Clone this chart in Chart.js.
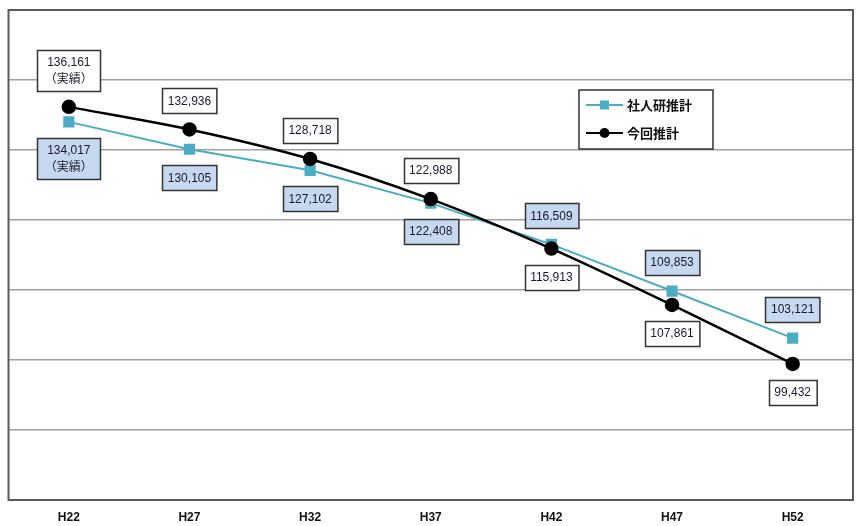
<!DOCTYPE html>
<html>
<head>
<meta charset="utf-8">
<script src="https://cdn.jsdelivr.net/npm/chart.js@4/dist/chart.umd.min.js"></script>
<style>
  html, body { margin: 0; padding: 0; background: #fff; }
  #wrap { width: 862px; height: 526px; }
</style>
</head>
<body>
<div id="wrap"><canvas id="chart" width="862" height="526"></canvas></div>
<script>
const years = ["H22", "H27", "H32", "H37", "H42", "H47", "H52"]
const shajinken = [134017, 130105, 127102, 122408, 116509, 109853, 103121]
const konkai = [136161, 132936, 128718, 122988, 115913, 107861, 99432]
const actualNote = "（実績）"
const seriesNames = ["社人研推計", "今回推計"]

// which labels sit above the point (true) or below it (false)
const konkaiAbove = [true, true, true, true, false, false, false]
const shajinkenAbove = [false, false, false, false, true, true, true]

const CYAN = "#4bacc6"
const FONT = "'Liberation Sans', 'Noto Sans CJK JP', Arial, sans-serif"
const JP_FONT = "'Noto Sans CJK JP', 'Liberation Sans', sans-serif"

const fmt = (v) => v.toLocaleString("en-US")

function drawBox(ctx, cx, anchorY, above, lines, fill) {
  ctx.save()
  ctx.font = "12px " + FONT
  const lineH = 16
  let w = 0
  lines.forEach((l) => { w = Math.max(w, ctx.measureText(l).width) })
  w += lines.length > 1 ? 15 : 11
  const h = lines.length * lineH + 9
  const gap = 16
  const top = above ? anchorY - gap - h : anchorY + gap
  const left = Math.round(cx - w / 2) + 0.5
  ctx.fillStyle = fill
  ctx.fillRect(left, Math.round(top) + 0.5, w, h)
  ctx.strokeStyle = "#333"
  ctx.lineWidth = 1.5
  ctx.strokeRect(left, Math.round(top) + 0.5, w, h)
  ctx.fillStyle = "#1a1a2a"
  ctx.textAlign = "center"
  ctx.textBaseline = "middle"
  lines.forEach((l, i) => {
    ctx.font = (i === 0 ? "12px " + FONT : "12px " + JP_FONT)
    ctx.fillText(l, cx, top + 4.5 + lineH * i + lineH / 2 + 0.5)
  })
  ctx.restore()
}

const decorPlugin = {
  id: "decor",
  beforeDatasetsDraw(chart) {
    const { ctx, chartArea: a } = chart
    ctx.save()
    ctx.strokeStyle = "#5a5a5a"
    ctx.lineWidth = 2
    ctx.strokeRect(a.left, a.top, a.right - a.left, a.bottom - a.top)
    ctx.restore()
  },
  afterDatasetsDraw(chart) {
    const { ctx } = chart
    const m0 = chart.getDatasetMeta(0)
    const m1 = chart.getDatasetMeta(1)
    m0.data.forEach((pt, i) => {
      const lines = i === 0 ? [fmt(shajinken[i]), actualNote] : [fmt(shajinken[i])]
      drawBox(ctx, pt.x, pt.y, shajinkenAbove[i], lines, "#c6d9f1")
    })
    m1.data.forEach((pt, i) => {
      const lines = i === 0 ? [fmt(konkai[i]), actualNote] : [fmt(konkai[i])]
      drawBox(ctx, pt.x, pt.y, konkaiAbove[i], lines, "#ffffff")
    })

    // legend box
    ctx.save()
    const lx = 579, ly = 90, lw = 134, lh = 59
    ctx.fillStyle = "#fff"
    ctx.fillRect(lx, ly, lw, lh)
    ctx.strokeStyle = "#333"
    ctx.lineWidth = 1.5
    ctx.strokeRect(lx, ly, lw, lh)
    const rows = [
      { y: 105, color: CYAN, rect: true, name: seriesNames[0] },
      { y: 133, color: "#000", rect: false, name: seriesNames[1] },
    ]
    rows.forEach((r) => {
      ctx.strokeStyle = r.color
      ctx.lineWidth = 2
      ctx.beginPath()
      ctx.moveTo(586, r.y)
      ctx.lineTo(623, r.y)
      ctx.stroke()
      ctx.fillStyle = r.color
      if (r.rect) {
        ctx.fillRect(600, r.y - 4.5, 9, 9)
      } else {
        ctx.beginPath()
        ctx.arc(604.5, r.y, 5, 0, Math.PI * 2)
        ctx.fill()
      }
      ctx.fillStyle = "#111"
      ctx.font = "bold 13px " + JP_FONT
      ctx.textAlign = "left"
      ctx.textBaseline = "middle"
      ctx.fillText(r.name, 627, r.y + 0.5)
    })
    ctx.restore()
  },
}

new Chart(document.getElementById("chart"), {
  type: "line",
  data: {
    labels: years,
    datasets: [
      {
        label: seriesNames[0],
        data: shajinken,
        borderColor: CYAN,
        backgroundColor: CYAN,
        borderWidth: 2,
        pointStyle: "rect",
        pointRadius: 6.5,
        tension: 0,
        order: 1,
      },
      {
        label: seriesNames[1],
        data: konkai,
        borderColor: "#000",
        backgroundColor: "#000",
        borderWidth: 2.5,
        pointStyle: "circle",
        pointRadius: 6,
        tension: 0.3,
        order: 0,
      },
    ],
  },
  options: {
    responsive: false,
    animation: false,
    layout: { padding: { left: 8, right: 9, top: 10, bottom: 0 } },
    plugins: {
      legend: { display: false },
      tooltip: { enabled: false },
    },
    scales: {
      x: {
        offset: true,
        grid: { display: false, drawTicks: false },
        border: { display: false },
        ticks: {
          color: "#111",
          font: { family: FONT, size: 12, weight: "bold" },
          padding: 10,
          maxRotation: 0,
        },
        afterFit: (axis) => { axis.height = 26 },
      },
      y: {
        min: 80000,
        max: 150000,
        ticks: { display: false, stepSize: 10000 },
        grid: { color: "#a0a0a0", lineWidth: 1.5, drawTicks: false },
        border: { display: false },
        afterFit: (axis) => { axis.width = 0 },
      },
    },
  },
  plugins: [decorPlugin],
})
</script>
</body>
</html>
